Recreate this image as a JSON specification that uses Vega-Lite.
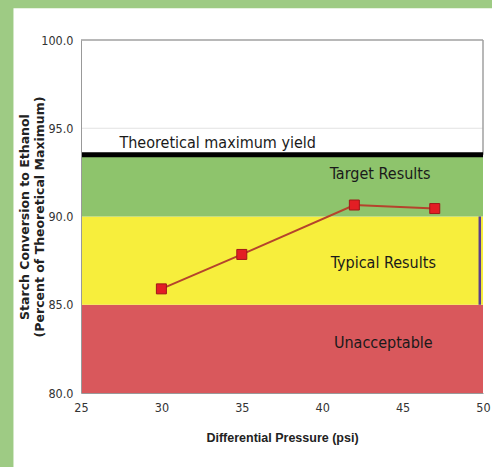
{
  "$schema": "https://vega.github.io/schema/vega-lite/v6.json",
  "width": 402,
  "height": 353,
  "autosize": {"type": "none"},
  "padding": {"left": 81, "top": 40, "right": 9, "bottom": 74},
  "background": "#9ecb84",
  "config": {
    "view": {"stroke": null},
    "font": "Liberation Sans",
    "axis": {"grid": false, "ticks": false, "labelFlush": false, "domainColor": "#999999", "labelFont": "DejaVu Sans Condensed, Liberation Sans", "labelFontSize": 12.5, "labelColor": "#333333", "titleFont": "Liberation Sans", "titleFontWeight": "bold", "titleFontSize": 12.5, "titleColor": "#222222"}
  },
  "datasets": {
    "one": [{}],
    "results": [
      {"pressure": 30, "conversion": 85.9},
      {"pressure": 35, "conversion": 87.85},
      {"pressure": 42, "conversion": 90.65},
      {"pressure": 47, "conversion": 90.45}
    ],
    "bands": [
      {"zone": "Unacceptable", "low": 80, "high": 85},
      {"zone": "Typical", "low": 85, "high": 90},
      {"zone": "Target", "low": 90, "high": 93.5}
    ],
    "labels": [
      {"x": 33.5, "y": 94.15, "text": "Theoretical maximum yield"},
      {"x": 43.6, "y": 92.4, "text": "Target Results"},
      {"x": 43.8, "y": 87.37, "text": "Typical Results"},
      {"x": 43.8, "y": 82.83, "text": "Unacceptable"}
    ]
  },
  "layer": [
    {
      "data": {"name": "one"},
      "mark": {"type": "rect", "color": "#ffffff", "clip": false},
      "encoding": {
        "x": {"datum": 20.8, "type": "quantitative", "scale": {"domain": [25, 50], "nice": false, "zero": false}},
        "x2": {"datum": 60},
        "y": {"datum": 101.8, "type": "quantitative", "scale": {"domain": [80, 100], "nice": false, "zero": false}},
        "y2": {"datum": 60}
      }
    },
    {
      "data": {"name": "bands"},
      "mark": {"type": "rect"},
      "encoding": {
        "x": {"datum": 25, "type": "quantitative"},
        "x2": {"datum": 50},
        "y": {"field": "low", "type": "quantitative"},
        "y2": {"field": "high"},
        "color": {"field": "zone", "type": "nominal", "legend": null, "scale": {"domain": ["Unacceptable", "Typical", "Target"], "range": ["#d9585c", "#f7ee3c", "#8ec46c"]}}
      }
    },
    {
      "data": {"name": "one"},
      "mark": {"type": "rule", "color": "#e2e2e2", "strokeWidth": 1},
      "encoding": {"y": {"datum": 95, "type": "quantitative"}}
    },
    {
      "data": {"name": "one"},
      "mark": {"type": "rule", "color": "#a0a0a0", "strokeWidth": 1.5},
      "encoding": {"y": {"datum": 100, "type": "quantitative"}}
    },
    {
      "data": {"name": "one"},
      "mark": {"type": "rule", "color": "#a0a0a0", "strokeWidth": 1.5},
      "encoding": {"x": {"datum": 50, "type": "quantitative"}, "y": {"datum": 100, "type": "quantitative"}, "y2": {"datum": 93.5}}
    },
    {
      "data": {"name": "one"},
      "mark": {"type": "rule", "color": "#000000", "strokeWidth": 5},
      "encoding": {"y": {"datum": 93.5, "type": "quantitative"}}
    },
    {
      "data": {"name": "one"},
      "mark": {"type": "rule", "color": "#5b3d8f", "strokeWidth": 2.5},
      "encoding": {"x": {"datum": 49.8, "type": "quantitative"}, "y": {"datum": 85, "type": "quantitative"}, "y2": {"datum": 90}}
    },
    {
      "data": {"name": "labels"},
      "mark": {"type": "text", "font": "DejaVu Sans Condensed, Liberation Sans", "fontSize": 16, "color": "#1a1a1a", "align": "center", "baseline": "middle"},
      "encoding": {
        "x": {"field": "x", "type": "quantitative"},
        "y": {"field": "y", "type": "quantitative"},
        "text": {"field": "text"}
      }
    },
    {
      "data": {"name": "results"},
      "mark": {"type": "line", "color": "#b5432c", "strokeWidth": 2},
      "encoding": {
        "x": {"field": "pressure", "type": "quantitative", "axis": {"zindex": 2, "title": "Differential Pressure (psi)", "values": [25, 30, 35, 40, 45, 50], "labelPadding": 8, "titlePadding": 18}},
        "y": {"field": "conversion", "type": "quantitative", "axis": {"zindex": 2, "title": ["Starch Conversion to Ethanol", "(Percent of Theoretical Maximum)"], "titleFont": "DejaVu Sans", "titleFontSize": 12.5, "titleLineHeight": 15, "values": [80, 85, 90, 95, 100], "format": ".1f", "labelPadding": 8, "titlePadding": -6}}
      }
    },
    {
      "data": {"name": "results"},
      "mark": {"type": "point", "shape": "square", "filled": true, "size": 100, "color": "#e31e24", "stroke": "#a01818", "strokeWidth": 1, "opacity": 1},
      "encoding": {
        "x": {"field": "pressure", "type": "quantitative"},
        "y": {"field": "conversion", "type": "quantitative"}
      }
    }
  ]
}
